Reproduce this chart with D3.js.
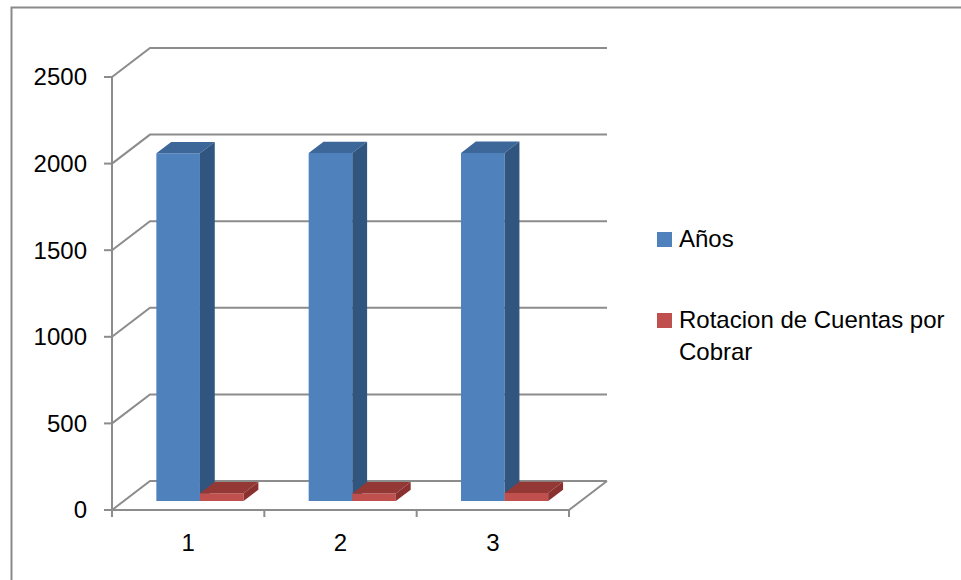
<!DOCTYPE html>
<html>
<head>
<meta charset="utf-8">
<script src="https://cdn.jsdelivr.net/npm/d3@7/dist/d3.min.js"></script>
<style>
  html, body { margin: 0; padding: 0; background: #fff; }
  svg { display: block; }
  text { font-family: "Liberation Sans", Arial, sans-serif; fill: #000; }
</style>
</head>
<body>
<svg id="chart" width="961" height="580"></svg>
<script>
// Chart data
const categories = ["1", "2", "3"];
const seriesNames = ["Años", "Rotacion de Cuentas por Cobrar"];
const anos = [2008, 2009, 2010];
const rotacion = [45, 44, 46];
const yTicks = [0, 500, 1000, 1500, 2000, 2500];

const seriesValues = [anos, rotacion];
const seriesColors = [
  { front: "#4F81BD", top: "#3C6798", side: "#30557F" },
  { front: "#C0504D", top: "#943836", side: "#8A302E" }
];

const svg = d3.select("#chart");

// Outer chart-area frame
svg.append("rect")
  .attr("x", 11.5).attr("y", 7.5)
  .attr("width", 970).attr("height", 590)
  .attr("fill", "none").attr("stroke", "#8a8a8a").attr("stroke-width", 2);

// Front plane layout and 3D depth offsets
const left = 112, right = 569, depthX = 38, depthY = -29;
const y = d3.scaleLinear().domain([0, 2500]).range([510, 77]);
const x = d3.scaleBand().domain(categories).range([left, right]);
const xs = d3.scaleBand().domain(seriesNames)
  .range([0, x.bandwidth()]).paddingInner(0).paddingOuter(0.747);

// Project a front-plane point into the box at depth fraction z
const P = (px, py, z) => [px + z * depthX, py + z * depthY];

const gridColor = "#8c8c8c";
const grid = svg.append("g").attr("fill", "none")
  .attr("stroke", gridColor).attr("stroke-width", 2);

// Side-wall diagonals and back-wall gridlines
yTicks.forEach(v => {
  const f = [left, y(v)];
  const b = P(left, y(v), 1);
  const br = P(right, y(v), 1);
  grid.append("path").attr("d", d3.line()([f, b, br]));
});

// Floor front edge and right diagonal
grid.append("path").attr("d", d3.line()([[left, y(0)], [right, y(0)], P(right, y(0), 1)]));

// Value axis line and ticks
grid.append("line").attr("x1", left).attr("x2", left)
  .attr("y1", y(2500)).attr("y2", y(0));
yTicks.forEach(v => {
  grid.append("line").attr("x1", left - 8).attr("x2", left)
    .attr("y1", y(v)).attr("y2", y(v));
});

// Category ticks
const catEdges = categories.map(c => x(c)).concat([right]);
catEdges.forEach(px => {
  grid.append("line").attr("x1", px).attr("x2", px)
    .attr("y1", y(0)).attr("y2", y(0) + 7);
});

// Value labels
svg.append("g").selectAll("text").data(yTicks).join("text")
  .attr("x", 87).attr("y", d => y(d))
  .attr("dy", "0.35em")
  .attr("text-anchor", "end")
  .attr("font-size", 24)
  .text(d => d);

// Category labels
svg.append("g").selectAll("text").data(categories).join("text")
  .attr("x", d => x(d) + x.bandwidth() / 2)
  .attr("y", 551)
  .attr("text-anchor", "middle")
  .attr("font-size", 24)
  .text(d => d);

// 3D columns
const z0 = 0.31, z1 = 0.70;
const bars = svg.append("g");
categories.forEach((c, ci) => {
  seriesNames.forEach((s, si) => {
    const v = seriesValues[si][ci];
    const col = seriesColors[si];
    const xl = x(c) + xs(s);
    const xr = xl + xs.bandwidth();
    const yt = y(v), yb = y(0);
    const g = bars.append("g");
    // front face
    const fl = P(xl, yt, z0), fr = P(xr, yt, z0), frb = P(xr, yb, z0), flb = P(xl, yb, z0);
    const bl = P(xl, yt, z1), br = P(xr, yt, z1), brb = P(xr, yb, z1);
    g.append("path").attr("d", d3.line()([fl, fr, frb, flb]) + "Z")
      .attr("fill", col.front);
    // top face
    g.append("path").attr("d", d3.line()([fl, bl, br, fr]) + "Z")
      .attr("fill", col.top);
    // right side face
    g.append("path").attr("d", d3.line()([fr, br, brb, frb]) + "Z")
      .attr("fill", col.side);
  });
});

// Legend
const legend = svg.append("g").attr("font-size", 24);
const legendItems = [
  { lines: ["Años"], top: 232 },
  { lines: ["Rotacion de Cuentas por", "Cobrar"], top: 313 }
];
legendItems.forEach((it, i) => {
  legend.append("rect")
    .attr("x", 657).attr("y", it.top)
    .attr("width", 15).attr("height", 15)
    .attr("fill", seriesColors[i].front);
  it.lines.forEach((ln, li) => {
    legend.append("text")
      .attr("x", 679).attr("y", it.top + 15 + li * 32)
      .text(ln);
  });
});
</script>
</body>
</html>
